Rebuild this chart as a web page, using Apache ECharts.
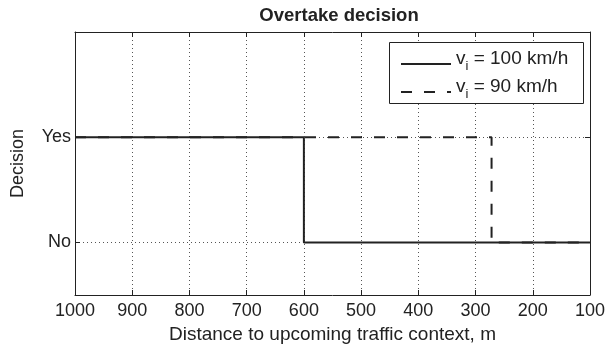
<!DOCTYPE html>
<html>
<head>
<meta charset="utf-8">
<script src="https://cdn.jsdelivr.net/npm/echarts@6/dist/echarts.min.js"></script>
<style>
  html, body { margin: 0; padding: 0; background: #fff; }
  #chart { width: 608px; height: 351px; }
</style>
</head>
<body>
<div id="chart"></div>
<script>
// Decision switch points along the approach distance (m), for each initial speed
const distance100 = [1000, 600, 100];
const decision100 = [1, 0, 0];
const distance90 = [1000, 272, 100];
const decision90 = [1, 0, 0];

const speedNames = ['100 km/h', '90 km/h'];
const decisionLabels = { 0: 'No', 1: 'Yes' };
const decisionTicks = [0, 1];

const FONT = 'Liberation Sans, Arial, Helvetica, sans-serif';
const INK = '#222';

const toPairs = (xs, ys) => xs.map((x, i) => [x, ys[i]]);

const chart = echarts.init(document.getElementById('chart'), null, { renderer: 'canvas' });

const xBase = {
  type: 'value',
  min: 100,
  max: 1000,
  interval: 100,
  inverse: true,
  axisLine: { show: true, onZero: false, lineStyle: { color: INK, width: 1 } },
  axisTick: { show: true, inside: true, length: 5, lineStyle: { color: INK } }
};

const yBase = {
  type: 'value',
  min: -0.5,
  max: 2,
  axisLine: { show: true, onZero: false, lineStyle: { color: INK, width: 1 } },
  axisTick: { show: true, inside: true, length: 5, customValues: decisionTicks, lineStyle: { color: INK } }
};

chart.setOption({
  animation: false,
  backgroundColor: '#fff',
  textStyle: { fontFamily: FONT },
  title: {
    text: 'Overtake decision',
    left: 334,
    textAlign: 'center',
    top: 1,
    textStyle: { fontFamily: FONT, fontSize: 18.5, fontWeight: 'bold', color: INK }
  },
  grid: { left: 75, right: 16, top: 32, bottom: 56, containLabel: false },
  xAxis: [
    Object.assign({}, xBase, {
      position: 'bottom',
      name: 'Distance to upcoming traffic context, m',
      nameLocation: 'middle',
      nameGap: 30,
      nameTextStyle: { fontFamily: FONT, fontSize: 19, color: INK },
      axisLabel: { show: true, margin: 7, fontFamily: FONT, fontSize: 18, color: INK, formatter: v => String(v) },
      splitLine: { show: true, lineStyle: { type: [1, 3], color: '#555', width: 1 } }
    }),
    Object.assign({}, xBase, {
      position: 'top',
      axisLabel: { show: false },
      splitLine: { show: false }
    })
  ],
  yAxis: [
    Object.assign({}, yBase, {
      position: 'left',
      name: 'Decision',
      nameLocation: 'middle',
      nameGap: 48,
      nameTextStyle: { fontFamily: FONT, fontSize: 18, color: INK },
      axisLabel: {
        show: true,
        margin: 4,
        customValues: decisionTicks,
        fontFamily: FONT,
        fontSize: 18,
        color: INK,
        formatter: v => decisionLabels[v] || ''
      },
      splitLine: { show: true, lineStyle: { type: [1, 3], color: '#555', width: 1 } }
    }),
    Object.assign({}, yBase, {
      position: 'right',
      axisLabel: { show: false },
      splitLine: { show: false }
    })
  ],
  legend: {
    orient: 'vertical',
    left: 400,
    top: 49,
    padding: 0,
    itemWidth: 50,
    itemHeight: 14,
    itemGap: 4,
    z: 20,
    selectedMode: false,
    data: speedNames,
    itemStyle: { opacity: 0 },
    formatter: name => '{v|v}{i|i}{v| = ' + name + '}',
    textStyle: {
      fontFamily: FONT,
      color: INK,
      rich: {
        v: { fontFamily: FONT, fontSize: 19, color: INK, lineHeight: 18, padding: [0, 0, 5, 0], verticalAlign: 'bottom' },
        i: { fontFamily: FONT, fontSize: 13, color: INK, lineHeight: 13, verticalAlign: 'bottom' }
      }
    }
  },
  graphic: [{
    type: 'rect',
    left: 389,
    top: 42,
    shape: { width: 194, height: 61 },
    style: { fill: '#fff', stroke: INK, lineWidth: 1 },
    z: 6
  }],
  series: [
    {
      name: speedNames[0],
      type: 'line',
      step: 'end',
      symbol: 'none',
      data: toPairs(distance100, decision100),
      lineStyle: { color: INK, width: 2, type: 'solid' },
      itemStyle: { color: INK },
      z: 3
    },
    {
      name: speedNames[1],
      type: 'line',
      step: 'end',
      symbol: 'none',
      data: toPairs(distance90, decision90),
      lineStyle: { color: INK, width: 2, type: [11, 12] },
      itemStyle: { color: INK },
      z: 4
    }
  ]
});
</script>
</body>
</html>
